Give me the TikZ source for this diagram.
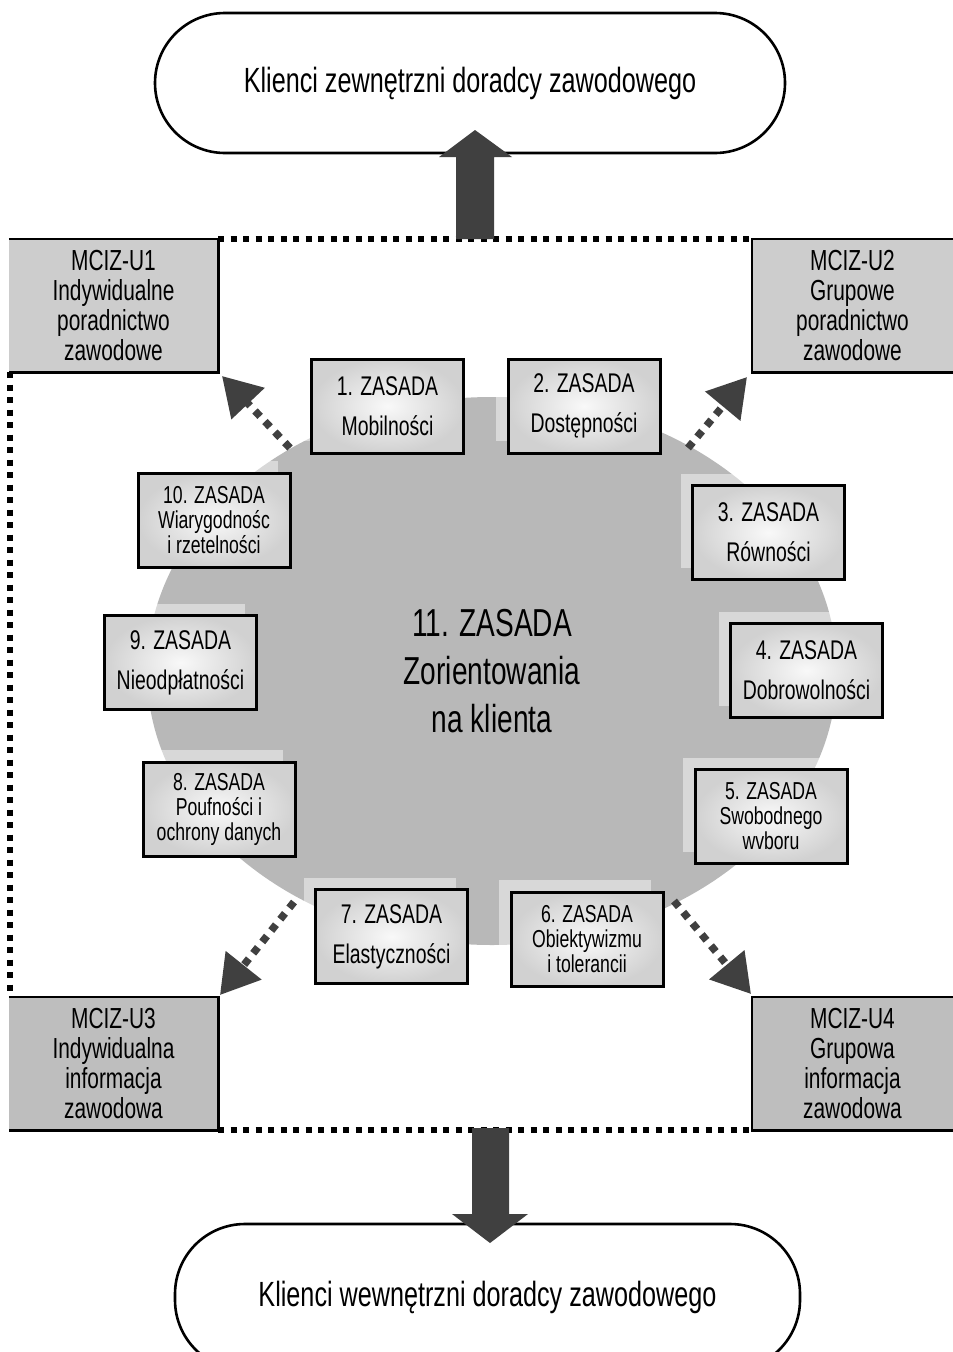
\documentclass[tikz,border=0pt]{standalone}
\usepackage{fontspec}
\setmainfont{Liberation Sans}[FakeStretch=0.72]
\usetikzlibrary{arrows.meta,shapes.geometric}
\definecolor{arrowgray}{HTML}{404040}
\definecolor{cornerA}{HTML}{CDCDCD}
\definecolor{cornerB}{HTML}{BEBEBE}
\definecolor{ellgray}{HTML}{B8B8B8}
\begin{document}
\begin{tikzpicture}[x=1pt,y=-1pt,
  stad/.style={draw, line width=2.6pt, rounded corners=70pt, inner sep=0pt,
    font=\fontsize{35}{38}\selectfont},
  corner/.style={draw=none, minimum width=209pt, minimum height=133pt, inner sep=0pt,
    align=center, font=\fontsize{29}{29.7}\selectfont},
  cornerline/.style={line width=2.6pt},
  zbox/.style={draw, line width=3pt, minimum width=152pt, minimum height=94pt,
    inner sep=0pt, align=center, shading=radial, inner color=gray!5, outer color=gray!36},
  ztwo/.style={zbox, font=\fontsize{27}{40}\selectfont},
  zthree/.style={zbox, font=\fontsize{24.5}{25}\selectfont},
  ghost/.style={fill=white, fill opacity=0.45, draw=none},
  dashrect/.style={line width=5.5pt, dash pattern=on 6pt off 6.5pt},
  dotarrow/.style={line width=7.5pt, color=arrowgray, dash pattern=on 7.5pt off 7pt,
    -{Triangle[length=38pt,width=44pt]}},
  blockarrow/.style={fill=arrowgray, draw=none}
]
\useasboundingbox (0,0) rectangle (953,1352);

% stadiums
\node[stad, minimum width=630pt, minimum height=140pt] (ext) at (470,83) {Klienci zewnętrzni doradcy zawodowego};
\node[stad, minimum width=625pt, minimum height=146pt] (int) at (487.5,1297) {Klienci wewnętrzni doradcy zawodowego};

% central ellipse
\node[ellipse, fill=ellgray, minimum width=690pt, minimum height=548pt, inner sep=0pt,
  align=center, font=\fontsize{39}{48}\selectfont] (c11) at (492,671)
  {11. ZASADA\\Zorientowania\\na klienta};

% corner boxes
\node[corner, fill=cornerA] (u1) at (113.5,305.5) {MCIZ-U1\\Indywidualne\\poradnictwo\\zawodowe};
\node[corner, fill=cornerA, minimum width=201pt] (u2) at (852.5,305.5) {MCIZ-U2\\Grupowe\\poradnictwo\\zawodowe};
\node[corner, fill=cornerB] (u3) at (113.5,1063.5) {MCIZ-U3\\Indywidualna\\informacja\\zawodowa};
\node[corner, fill=cornerB, minimum width=201pt] (u4) at (852.5,1063.5) {MCIZ-U4\\Grupowa\\informacja\\zawodowa};
\draw[cornerline] (u1.north west) -- (u1.north east) -- (u1.south east) -- (u1.south west);
\draw[cornerline] (u3.north west) -- (u3.north east) -- (u3.south east) -- (u3.south west);
\draw[cornerline] (u2.north east) -- (u2.north west) -- (u2.south west) -- (u2.south east);
\draw[cornerline] (u4.north east) -- (u4.north west) -- (u4.south west) -- (u4.south east);

% dotted frame
\draw[dashrect] (u1.north east) -- (u2.north west);
\draw[dashrect] (u3.south east) -- (u4.south west);
\draw[dashrect] ([xshift=1pt]u1.south west) -- ([xshift=1pt]u3.north west);

% ghost shadows
\foreach \x/\y in {387.5/406, 584/406, 768.5/532.5, 806.5/670.5, 771/816.5, 587/939, 391.5/936.5, 219/809, 180.5/662.5, 214/520}
  \fill[ghost] (\x-88,\y-59) rectangle (\x+64,\y+35);

% principle boxes
\node[ztwo] (z1) at (387.5,406) {1. ZASADA\\Mobilności};
\node[ztwo] (z2) at (584,406) {2. ZASADA\\Dostępności};
\node[ztwo] (z3) at (768.5,532.5) {3. ZASADA\\Równości};
\node[ztwo] (z4) at (806.5,670.5) {4. ZASADA\\Dobrowolności};
\node[zthree] (z5) at (771,816.5) {5. ZASADA\\Swobodnego\\wvboru};
\node[zthree] (z6) at (587,939) {6. ZASADA\\Obiektywizmu\\i tolerancii};
\node[ztwo] (z7) at (391.5,936.5) {7. ZASADA\\Elastyczności};
\node[zthree] (z8) at (219,809) {8. ZASADA\\Poufności i\\ochrony danych};
\node[ztwo] (z9) at (180.5,662.5) {9. ZASADA\\Nieodpłatności};
\node[zthree] (z10) at (214,520) {10. ZASADA\\Wiarygodnośc\\i rzetelności};

% block arrows
\fill[blockarrow] (456,239) -- (456,157) -- (439,157) -- (475,130) -- (512,157) -- (494,157) -- (494,239) -- cycle;
\fill[blockarrow] (472,1128) -- (472,1214) -- (452,1214) -- (490,1243) -- (528,1214) -- (509,1214) -- (509,1128) -- cycle;

% dotted arrows
\coordinate (a1s) at (290,448); \coordinate (a1e) at (222,376);
\coordinate (a2s) at (688,448); \coordinate (a2e) at (747,377);
\coordinate (a3s) at (294,902); \coordinate (a3e) at (220,995);
\coordinate (a4s) at (674,901); \coordinate (a4e) at (751,994);
\draw[dotarrow] (a1s) -- (a1e);
\draw[dotarrow] (a2s) -- (a2e);
\draw[dotarrow] (a3s) -- (a3e);
\draw[dotarrow] (a4s) -- (a4e);
\end{tikzpicture}
\end{document}
